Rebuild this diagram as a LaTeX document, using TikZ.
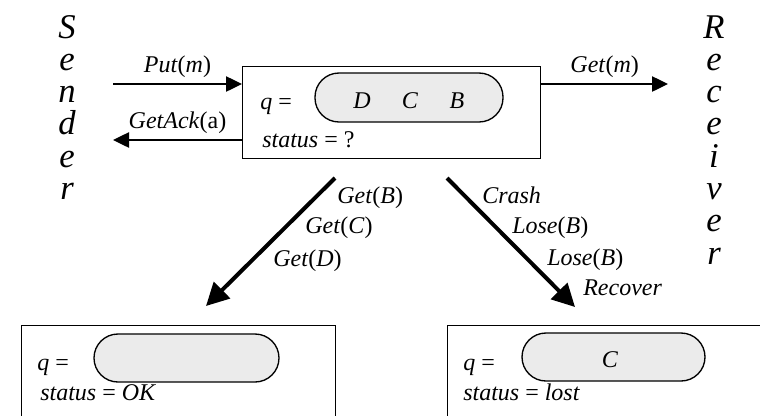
\documentclass[tikz,border=0pt]{standalone}
\usepackage{fontspec}
\setmainfont{Liberation Serif}
\usetikzlibrary{arrows.meta,positioning}

\definecolor{pillgray}{RGB}{235,235,235}
\newcommand\msgcall[2]{\textit{#1}(\textit{#2})}

\tikzset{
  lbl/.style={font=\fontsize{18}{20}\selectfont, inner sep=0pt},
  bigletter/.style={font=\fontsize{26}{28}\selectfont\itshape, inner sep=0pt, anchor=base, text height=17.5pt, text depth=0pt},
  statebox/.style={draw, line width=1pt, anchor=north west, inner sep=0pt},
  pill/.style={draw, line width=1pt, fill=pillgray, rounded corners=18pt, inner sep=0pt, minimum height=36pt},
  msg/.style={-{Triangle[length=12pt,width=11.5pt]}, line width=1pt},
  trans/.style={-{Triangle[length=17pt,width=17pt]}, line width=3pt},
}

\begin{document}
\begin{tikzpicture}[x=0.75pt,y=-0.75pt]
        \useasboundingbox (0,0) rectangle (760,415);
        \clip (0,0) rectangle (760,415);

        % sender and receiver
        \foreach \ch [count=\i] in {S,e,n,d,e,r}
          \node[bigletter] (snd\i) at (67, {38+32.3*(\i-1)}) {\ch};
        \foreach \ch [count=\i] in {R,e,c,e,i,v,e,r}
          \node[bigletter] (rcv\i) at (714, {38+32.3*(\i-1)}) {\ch};

        % initial state
        \node[statebox, minimum width=223.5pt, minimum height=69pt] (top) at (242,66) {};
        \node[pill, minimum width=141pt, minimum height=36.75pt] (qtop) at (409,97.5) {};
        \node[lbl, anchor=base west] (qtoplbl) at (260,109) {\textit{q} =};
        \node[lbl, anchor=base] (qd) at (362,108) {\textit{D}};
        \node[lbl, anchor=base] (qc) at (410,108) {\textit{C}};
        \node[lbl, anchor=base] (qb) at (457,108) {\textit{B}};
        \node[lbl, anchor=base west] (sttop) at (262,147) {\textit{status} = ?};

        \coordinate (putsrc) at (113,84);
        \coordinate (acksink) at (113,140);
        \coordinate (getsink) at (668,84);
        \draw[msg] (putsrc) -- node[lbl, above=4pt] {\msgcall{Put}{m}} (putsrc -| top.west);
        \draw[msg] (acksink -| top.west) -- node[lbl, above=4pt] {\textit{GetAck}(a)} (acksink);
        \draw[msg] (getsink -| top.east) -- node[lbl, above=4pt] {\msgcall{Get}{m}} (getsink);

        % state after delivery
        \node[statebox, minimum width=235.5pt, minimum height=90pt] (ok) at (21,325) {};
        \node[pill, minimum width=138.75pt] (qok) at (186.5,358) {};
        \node[lbl, anchor=base west] (qoklbl) at (37,370) {\textit{q} =};
        \node[lbl, anchor=base west] (stok) at (40,400) {\textit{status} = \textit{OK}};

        % state after crash
        \node[statebox, minimum width=250pt, minimum height=90pt] (lost) at (447,325) {};
        \node[pill, minimum width=137.25pt] (qlost) at (613.5,357) {};
        \node[lbl, anchor=base west] (qlostlbl) at (463,370) {\textit{q} =};
        \node[lbl, anchor=base] (qlc) at (610,367) {\textit{C}};
        \node[lbl, anchor=base west] (stlost) at (463,400) {\textit{status} = \textit{lost}};

        % transitions
        \coordinate (okfrom) at (335,178);
        \coordinate (oktip) at (206,306);
        \coordinate (lostfrom) at (447,178);
        \coordinate (losttip) at (575,307);
        \draw[trans] (okfrom) -- (oktip);
        \draw[trans] (lostfrom) -- (losttip);

        \node[lbl, anchor=base west] (getb) at (337,203) {\msgcall{Get}{B}};
        \node[lbl, anchor=base west] (getc) at (305,233) {\msgcall{Get}{C}};
        \node[lbl, anchor=base west] (getd) at (273,266) {\msgcall{Get}{D}};
        \node[lbl, anchor=base west] (crash) at (482,203) {\textit{Crash}};
        \node[lbl, anchor=base west] (lose1) at (512,233) {\msgcall{Lose}{B}};
        \node[lbl, anchor=base west] (lose2) at (547,265) {\msgcall{Lose}{B}};
        \node[lbl, anchor=base west] (recover) at (583,295) {\textit{Recover}};
      \end{tikzpicture}
\end{document}
